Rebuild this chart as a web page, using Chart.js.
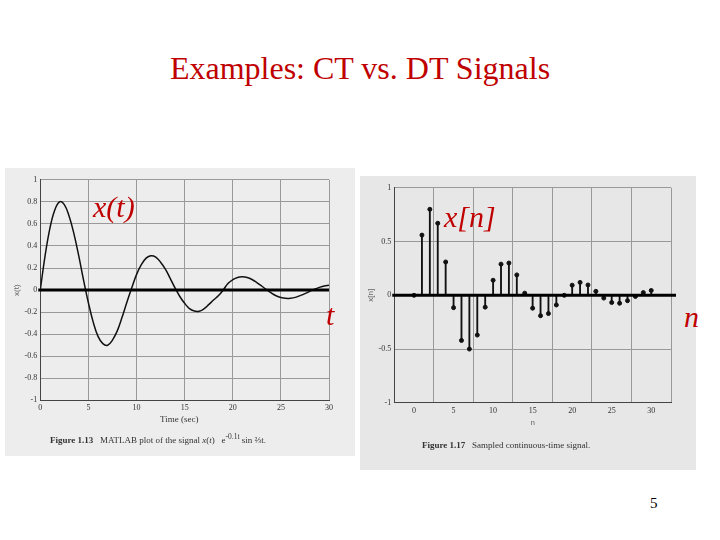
<!DOCTYPE html>
<html><head><meta charset="utf-8">
<script src="https://cdn.jsdelivr.net/npm/chart.js@4"></script>
<style>
body{margin:0;width:720px;height:540px;background:#fff;position:relative;overflow:hidden;font-family:"Liberation Serif",serif}
.abs{position:absolute}
#title{left:0;width:720px;top:50px;text-align:center;color:#c00000;font-size:32px}
.red{color:#c00000;font-style:italic;font-size:30px}
.cap{font-size:9px;color:#333}
</style></head><body>
<div id="title" class="abs">Examples: CT vs. DT Signals</div>
<div class="abs" style="left:5px;top:168px;width:350px;height:288px;background:#ededed"></div>
<div class="abs" style="left:360px;top:176px;width:336px;height:294px;background:#e7e7e7"></div>
<div class="abs" style="left:12px;top:172px;width:335px;height:244px"><canvas id="c1"></canvas></div>
<div class="abs" style="left:366px;top:180px;width:310px;height:248px"><canvas id="c2"></canvas></div>
<div class="abs cap" style="left:160px;top:414px">Time (sec)</div>
<div class="abs cap" style="left:50px;top:432px"><b>Figure 1.13</b> &nbsp; MATLAB plot of the signal <i>x</i>(<i>t</i>) &nbsp; e<sup>-0.1t</sup> sin ⅔t.</div>
<div class="abs cap" style="left:422px;top:440px"><b>Figure 1.17</b> &nbsp; Sampled continuous-time signal.</div>
<div class="abs red" style="left:93px;top:190px">x(t)</div>
<div class="abs red" style="left:326px;top:298px">t</div>
<div class="abs red" style="left:444px;top:200px">x[n]</div>
<div class="abs red" style="left:684px;top:300px">n</div>
<div class="abs" style="left:650px;top:495px;font-size:15px">5</div>
<script>
const tValues=[0,0.5,1,1.5,2,2.5,3,3.5,4,4.5,5,5.5,6,6.5,7,7.5,8,8.5,9,9.5,10,10.5,11,11.5,12,12.5,13,13.5,14,14.5,15,15.5,16,16.5,17,17.5,18,18.5,19,19.5,20,20.5,21,21.5,22,22.5,23,23.5,24,24.5,25,25.5,26,26.5,27,27.5,28,28.5,29,29.5,30];
const xtValues=[0,0.311,0.56,0.724,0.80,0.775,0.67,0.51,0.31,0.09,-0.115,-0.29,-0.42,-0.485,-0.50,-0.453,-0.37,-0.247,-0.11,0.019,0.14,0.23,0.29,0.312,0.30,0.253,0.19,0.107,0.02,-0.058,-0.12,-0.168,-0.19,-0.192,-0.17,-0.132,-0.09,-0.052,0.0,0.06,0.094,0.115,0.12,0.114,0.096,0.068,0.037,0.004,-0.026,-0.051,-0.067,-0.075,-0.074,-0.066,-0.05,-0.032,-0.011,0.009,0.025,0.038,0.045];
const nValues=[0,1,2,3,4,5,6,7,8,9,10,11,12,13,14,15,16,17,18,19,20,21,22,23,24,25,26,27,28,29,30];
const xnValues=[0,0.56,0.80,0.67,0.31,-0.115,-0.42,-0.50,-0.37,-0.11,0.14,0.29,0.30,0.19,0.02,-0.12,-0.19,-0.17,-0.09,0.0,0.094,0.12,0.096,0.037,-0.026,-0.067,-0.074,-0.05,-0.011,0.025,0.045];
const tk={color:'#333',font:{size:8,family:'Liberation Serif'}};
const grid={color:'#999',borderDash:[1,2],drawTicks:false};
function zeroLine(w){return {id:'z',afterDatasetsDraw(c){const x=c.scales.x,y=c.scales.y,ctx=c.ctx;const yy=y.getPixelForValue(0);ctx.save();ctx.strokeStyle='#000';ctx.lineWidth=3;ctx.beginPath();ctx.moveTo(x.left-2,yy);ctx.lineTo(x.right+w,yy);ctx.stroke();ctx.restore();}}}
new Chart(document.getElementById('c1'),{type:'line',
data:{datasets:[{data:tValues.map((t,i)=>({x:t,y:xtValues[i]})),borderColor:'#111',borderWidth:1.5,pointRadius:0,tension:0.4}]},
options:{responsive:true,maintainAspectRatio:false,animation:false,plugins:{legend:{display:false},tooltip:{enabled:false}},
layout:{padding:{right:18}},
scales:{x:{type:'linear',min:0,max:30,ticks:{...tk,stepSize:5,padding:3},grid,border:{color:'#444'}},
y:{min:-1,max:1,ticks:{...tk,stepSize:0.2,padding:3,callback:v=>Math.abs(v)<1e-9?'0':(Math.round(v*10)/10).toString()},grid,border:{color:'#444'},title:{display:true,text:'x(t)',font:{size:8},padding:0}}}},
plugins:[zeroLine(0)]});
new Chart(document.getElementById('c2'),{type:'bar',
data:{labels:nValues,datasets:[{type:'scatter',data:nValues.map((n,i)=>({x:n,y:xnValues[i]})),pointRadius:2,pointBackgroundColor:'#111',borderColor:'#111'},
{type:'bar',data:nValues.map((n,i)=>({x:n,y:xnValues[i]})),backgroundColor:'#111',barThickness:1.2}]},
options:{responsive:true,maintainAspectRatio:false,animation:false,plugins:{legend:{display:false},tooltip:{enabled:false}},
scales:{x:{type:'linear',min:0,max:30,ticks:{...tk,stepSize:5,padding:3},grid,border:{color:'#444'},title:{display:true,text:'n',font:{size:8},padding:0}},
y:{min:-1,max:1,ticks:{...tk,stepSize:0.5,padding:3,callback:v=>Math.abs(v)<1e-9?'0':v.toString()},grid,border:{color:'#444'},title:{display:true,text:'x[n]',font:{size:8},padding:0}}}},
plugins:[zeroLine(22)]});
</script></body></html>
